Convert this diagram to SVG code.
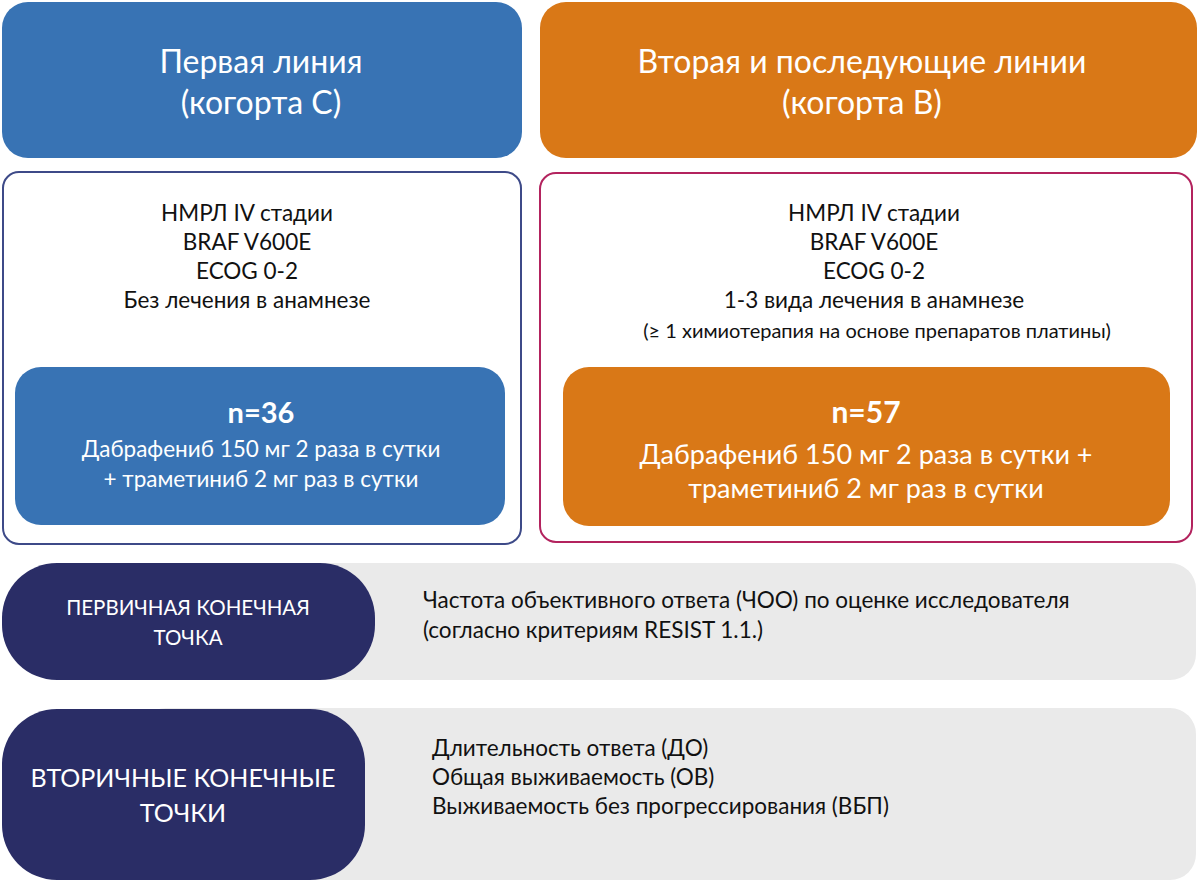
<svg xmlns="http://www.w3.org/2000/svg" width="1200" height="883" viewBox="0 0 1200 883">
<style>
text{font-family:"Lato","Open Sans","Liberation Sans",sans-serif;text-anchor:middle}
.w{fill:#ffffff}
.k{fill:#111111}
.hd{font-size:32px}
.cr{font-size:22.5px}
.sm{font-size:20px}
.ep{font-size:22.5px}
.b{font-weight:bold}
.blue{fill:#3873B4}
.orange{fill:#D97817}
.navy{fill:#2A2D66}
.gray{fill:#EAEAEA}
.l{text-anchor:start}
</style>
<rect width="1200" height="883" fill="#ffffff"/>
<g id="header-left">
<rect class="blue" x="2" y="2" width="520" height="156" rx="26"/>
<text class="w hd" x="261" y="73">Первая линия</text>
<text class="w hd" x="261" y="114">(когорта С)</text>
</g>
<g id="header-right">
<rect class="orange" x="540" y="2" width="657" height="156" rx="26"/>
<text class="w hd" x="862" y="73">Вторая и последующие линии</text>
<text class="w hd" x="862" y="114">(когорта В)</text>
</g>
<g id="cohort-c">
<rect x="3" y="172" width="518" height="372" rx="16" fill="#ffffff" stroke="#3D4A88" stroke-width="2"/>
<text class="k cr" x="247" y="221">НМРЛ IV стадии</text>
<text class="k cr" x="247" y="250">BRAF V600E</text>
<text class="k cr" x="247" y="279">ECOG 0-2</text>
<text class="k cr" x="247" y="308">Без лечения в анамнезе</text>
<rect class="blue" x="15" y="367" width="490" height="158" rx="26"/>
<text class="w b" x="261" y="423" font-size="29">n=36</text>
<text class="w cr" x="261" y="457">Дабрафениб 150 мг 2 раза в сутки</text>
<text class="w cr" x="261" y="487">+ траметиниб 2 мг раз в сутки</text>
</g>
<g id="cohort-b">
<rect x="540" y="173" width="652" height="369" rx="16" fill="#ffffff" stroke="#B3235E" stroke-width="2"/>
<text class="k cr" x="874" y="221">НМРЛ IV стадии</text>
<text class="k cr" x="874" y="250">BRAF V600E</text>
<text class="k cr" x="874" y="279">ECOG 0-2</text>
<text class="k cr" x="874" y="308">1-3 вида лечения в анамнезе</text>
<text class="k sm" x="877" y="338">(≥ 1 химиотерапия на основе препаратов платины)</text>
<rect class="orange" x="563" y="367" width="607" height="159" rx="26"/>
<text class="w b" x="866" y="423" font-size="30">n=57</text>
<text class="w" x="866" y="464" font-size="27">Дабрафениб 150 мг 2 раза в сутки +</text>
<text class="w" x="866" y="498" font-size="27">траметиниб 2 мг раз в сутки</text>
</g>
<g id="primary-endpoint">
<rect class="gray" x="140" y="563" width="1056" height="117" rx="26"/>
<rect class="navy" x="2" y="563" width="373" height="117" rx="55"/>
<text class="w" x="188" y="615" font-size="20.5">ПЕРВИЧНАЯ КОНЕЧНАЯ</text>
<text class="w" x="188" y="645" font-size="20.5">ТОЧКА</text>
<text class="k ep l" x="423" y="608">Частота объективного ответа (ЧОО) по оценке исследователя</text>
<text class="k ep l" x="423" y="638">(согласно критериям RESIST 1.1.)</text>
</g>
<g id="secondary-endpoints">
<rect class="gray" x="140" y="708" width="1056" height="172" rx="26"/>
<rect class="navy" x="2" y="709" width="363" height="171" rx="55"/>
<text class="w" x="183" y="787" font-size="25">ВТОРИЧНЫЕ КОНЕЧНЫЕ</text>
<text class="w" x="183" y="822" font-size="25">ТОЧКИ</text>
<text class="k ep l" x="432" y="756">Длительность ответа (ДО)</text>
<text class="k ep l" x="432" y="785">Общая выживаемость (ОВ)</text>
<text class="k ep l" x="432" y="814">Выживаемость без прогрессирования (ВБП)</text>
</g>
<g id="connectors"></g>
</svg>
